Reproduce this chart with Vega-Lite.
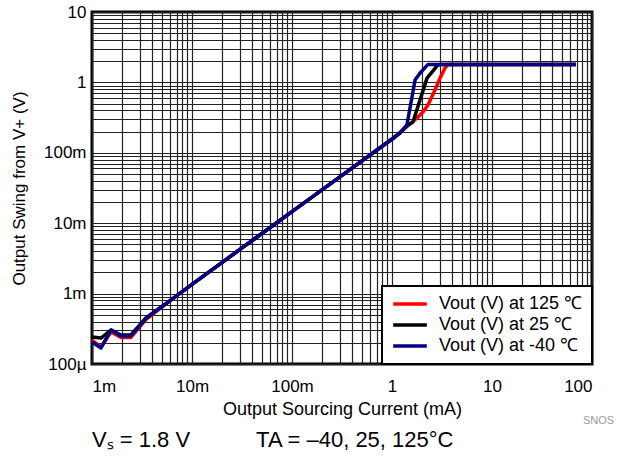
{
  "$schema": "https://vega.github.io/schema/vega-lite/v6.json",
  "width": 500,
  "height": 352,
  "autosize": {"type": "none"},
  "padding": {"left": 92, "top": 12, "right": 29, "bottom": 92},
  "background": "white",
  "config": {
    "font": "Liberation Sans",
    "view": {"stroke": "black", "strokeWidth": 3},
    "axis": {
      "labelFont": "Liberation Sans",
      "titleFont": "Liberation Sans",
      "labelFontSize": 17,
      "titleFontSize": 18,
      "titleFontWeight": "normal",
      "labelColor": "black",
      "titleColor": "black",
      "gridColor": "#222",
      "gridWidth": 1.2,
      "gridOpacity": 1,
      "ticks": false,
      "domain": false,
      "labelOverlap": false
    },
    "legend": {
      "labelFont": "Liberation Sans",
      "labelFontSize": 18,
      "labelColor": "black"
    },
    "title": {
      "font": "Liberation Sans",
      "fontSize": 22,
      "fontWeight": "normal",
      "color": "black"
    }
  },
  "title": {
    "text": "Vₛ = 1.8 V\u2003\u2003\u2003TA = –40, 25, 125°C",
    "orient": "bottom",
    "anchor": "start",
    "frame": "group",
    "offset": 4
  },
  "layer": [
    {
      "data": {
        "values": [
          {"T": "125", "I": 0.001, "V": 0.000219},
          {"T": "125", "I": 0.00123, "V": 0.000174},
          {"T": "125", "I": 0.00155, "V": 0.000285},
          {"T": "125", "I": 0.00195, "V": 0.000238},
          {"T": "125", "I": 0.00245, "V": 0.000238},
          {"T": "125", "I": 0.00347, "V": 0.00043},
          {"T": "125", "I": 0.006, "V": 0.00079},
          {"T": "125", "I": 0.01, "V": 0.00135},
          {"T": "125", "I": 0.0316, "V": 0.00445},
          {"T": "125", "I": 0.1, "V": 0.0146},
          {"T": "125", "I": 0.316, "V": 0.0478},
          {"T": "125", "I": 1.0, "V": 0.155},
          {"T": "125", "I": 1.29, "V": 0.211},
          {"T": "125", "I": 1.78, "V": 0.312},
          {"T": "125", "I": 2.04, "V": 0.38},
          {"T": "125", "I": 2.29, "V": 0.478},
          {"T": "125", "I": 2.69, "V": 0.78},
          {"T": "125", "I": 3.02, "V": 1.15},
          {"T": "125", "I": 3.39, "V": 1.6},
          {"T": "125", "I": 3.63, "V": 1.8},
          {"T": "125", "I": 69, "V": 1.8},

          {"T": "25", "I": 0.001, "V": 0.000242},
          {"T": "25", "I": 0.00123, "V": 0.000234},
          {"T": "25", "I": 0.00155, "V": 0.000304},
          {"T": "25", "I": 0.00195, "V": 0.000258},
          {"T": "25", "I": 0.00245, "V": 0.000258},
          {"T": "25", "I": 0.00347, "V": 0.00045},
          {"T": "25", "I": 0.006, "V": 0.00079},
          {"T": "25", "I": 0.01, "V": 0.00135},
          {"T": "25", "I": 0.0316, "V": 0.00445},
          {"T": "25", "I": 0.1, "V": 0.0146},
          {"T": "25", "I": 0.316, "V": 0.0478},
          {"T": "25", "I": 1.0, "V": 0.157},
          {"T": "25", "I": 1.2, "V": 0.191},
          {"T": "25", "I": 1.41, "V": 0.245},
          {"T": "25", "I": 1.62, "V": 0.274},
          {"T": "25", "I": 2.24, "V": 1.15},
          {"T": "25", "I": 2.51, "V": 1.4},
          {"T": "25", "I": 2.88, "V": 1.77},
          {"T": "25", "I": 3.02, "V": 1.8},
          {"T": "25", "I": 69, "V": 1.8},

          {"T": "-40", "I": 0.001, "V": 0.000205},
          {"T": "-40", "I": 0.00123, "V": 0.000169},
          {"T": "-40", "I": 0.00155, "V": 0.000304},
          {"T": "-40", "I": 0.00195, "V": 0.00025},
          {"T": "-40", "I": 0.00245, "V": 0.00025},
          {"T": "-40", "I": 0.00347, "V": 0.00045},
          {"T": "-40", "I": 0.006, "V": 0.00079},
          {"T": "-40", "I": 0.01, "V": 0.00135},
          {"T": "-40", "I": 0.0316, "V": 0.00445},
          {"T": "-40", "I": 0.1, "V": 0.0146},
          {"T": "-40", "I": 0.316, "V": 0.0478},
          {"T": "-40", "I": 1.0, "V": 0.157},
          {"T": "-40", "I": 1.2, "V": 0.191},
          {"T": "-40", "I": 1.41, "V": 0.248},
          {"T": "-40", "I": 1.7, "V": 1.08},
          {"T": "-40", "I": 1.91, "V": 1.36},
          {"T": "-40", "I": 2.29, "V": 1.8},
          {"T": "-40", "I": 69, "V": 1.8}
        ]
      },
      "mark": {"type": "line", "strokeWidth": 3.5, "strokeJoin": "round"},
      "encoding": {
        "x": {
          "field": "I",
          "type": "quantitative",
          "scale": {"type": "log", "domain": [0.001, 100], "nice": false},
          "axis": {
            "title": "Output Sourcing Current (mA)",
            "format": "~s",
            "labelPadding": 14,
            "titlePadding": 6,
            "labelExpr": "abs(log(datum.value)/LN10 - round(log(datum.value)/LN10)) < 0.001 ? datum.label : ''",
            "values": [0.001,0.002,0.003,0.004,0.005,0.006,0.007,0.008,0.009,
                       0.01,0.02,0.03,0.04,0.05,0.06,0.07,0.08,0.09,
                       0.1,0.2,0.3,0.4,0.5,0.6,0.7,0.8,0.9,
                       1,2,3,4,5,6,7,8,9,
                       10,20,30,40,50,60,70,80,90,100]
          }
        },
        "y": {
          "field": "V",
          "type": "quantitative",
          "scale": {"type": "log", "domain": [0.0001, 10], "nice": false},
          "axis": {
            "title": "Output Swing from V+ (V)",
            "titleFontSize": 17,
            "format": "~s",
            "labelPadding": 6,
            "titlePadding": 15,
            "labelExpr": "abs(log(datum.value)/LN10 - round(log(datum.value)/LN10)) < 0.001 ? datum.label : ''",
            "values": [0.0001,0.0002,0.0003,0.0004,0.0005,0.0006,0.0007,0.0008,0.0009,
                       0.001,0.002,0.003,0.004,0.005,0.006,0.007,0.008,0.009,
                       0.01,0.02,0.03,0.04,0.05,0.06,0.07,0.08,0.09,
                       0.1,0.2,0.3,0.4,0.5,0.6,0.7,0.8,0.9,
                       1,2,3,4,5,6,7,8,9,10]
          }
        },
        "color": {
          "field": "T",
          "type": "nominal",
          "sort": null,
          "scale": {"domain": ["125", "25", "-40"], "range": ["#FF0000", "#000000", "#000080"]},
          "legend": {
            "title": null,
            "orient": "bottom-right",
            "offset": 0,
            "padding": 9,
            "fillColor": "white",
            "strokeColor": "black",
            "symbolType": "M-2.4,0L2.4,0",
            "symbolStrokeWidth": 3.5,
            "symbolSize": 196,
            "symbolOffset": 10,
            "rowPadding": 3,
            "labelOffset": 20,
            "labelExpr": "'Vout (V) at ' + datum.label + ' ℃'",
            "encode": {"legend": {"update": {"strokeWidth": {"value": 2}}}}
          }
        }
      }
    },
    {
      "data": {"values": [{"tag": "SNOS"}]},
      "mark": {"type": "text", "align": "left", "baseline": "middle", "dx": -9, "dy": 57, "fontSize": 11, "color": "#9a9a9a"},
      "encoding": {
        "x": {"datum": 100},
        "y": {"datum": 0.0001},
        "text": {"field": "tag"}
      }
    }
  ]
}
